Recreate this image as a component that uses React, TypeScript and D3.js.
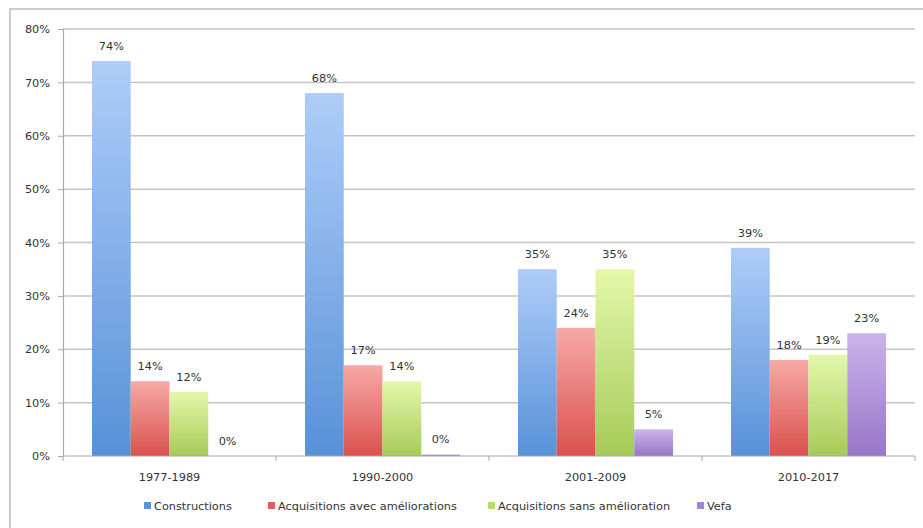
import * as d3 from "d3";
import { useEffect, useRef } from "react";

const periods = ["1977-1989", "1990-2000", "2001-2009", "2010-2017"];
const seriesNames = [
  "Constructions",
  "Acquisitions avec améliorations",
  "Acquisitions sans amélioration",
  "Vefa",
];
const constructions = [74, 68, 35, 39];
const avecAmeliorations = [14, 17, 24, 18];
const sansAmelioration = [12, 14, 35, 19];
const vefa = [0, 0.3, 5, 23];
const yTicks = [0, 10, 20, 30, 40, 50, 60, 70, 80];

const gradients = [
  ["#aecdf8", "#5891d8"],
  ["#f7a9a7", "#d9514d"],
  ["#e4f7ab", "#a6cb58"],
  ["#cbb4ec", "#9876c6"],
];
const legendFill = ["#5b93d8", "#e0605c", "#b4da72", "#a486d0"];

export default function App() {
  const ref = useRef<SVGSVGElement>(null);

  useEffect(() => {
    const svg = d3.select(ref.current);
    svg.selectAll("*").remove();
    const series = [constructions, avecAmeliorations, sansAmelioration, vefa];
    const font = "DejaVu Sans, sans-serif";
    const fs = 11.3;

    const left = 63;
    const right = 915;
    const x0 = d3.scaleBand().domain(periods).range([left, right]);
    const inset = x0.bandwidth() * 0.136;
    const x1 = d3
      .scaleBand()
      .domain(seriesNames)
      .range([inset, x0.bandwidth() - inset]);
    const y = d3.scaleLinear().domain([0, 80]).range([456, 29]);

    const defs = svg.append("defs");
    gradients.forEach((g, i) => {
      const lg = defs
        .append("linearGradient")
        .attr("id", `grad${i}`)
        .attr("x1", 0)
        .attr("y1", 0)
        .attr("x2", 0)
        .attr("y2", 1);
      lg.append("stop").attr("offset", "0%").attr("stop-color", g[0]);
      lg.append("stop").attr("offset", "100%").attr("stop-color", g[1]);
    });

    // outer frame
    svg
      .append("rect")
      .attr("x", 10)
      .attr("y", 9)
      .attr("width", 925)
      .attr("height", 540)
      .attr("fill", "white")
      .attr("stroke", "#cccccc")
      .attr("stroke-width", 2);

    // gridlines
    svg
      .append("g")
      .selectAll("line")
      .data(yTicks.filter((t) => t > 0))
      .join("line")
      .attr("x1", left)
      .attr("x2", right)
      .attr("y1", (d) => y(d))
      .attr("y2", (d) => y(d))
      .attr("stroke", "#c4c4c4")
      .attr("stroke-width", 1.5);

    // y axis
    const yAxis = svg
      .append("g")
      .attr("transform", `translate(${left},0)`)
      .call(
        d3
          .axisLeft(y)
          .tickValues(yTicks)
          .tickSize(5)
          .tickPadding(8)
          .tickFormat((d) => `${d}%`)
      );
    yAxis.select(".domain").attr("stroke", "#a8a8a8").attr("stroke-width", 1.2);
    yAxis.selectAll(".tick line").attr("stroke", "#a8a8a8");
    yAxis
      .selectAll("text")
      .attr("fill", "#333")
      .attr("font-size", fs)
      .attr("font-family", font);

    // bars
    const groups = svg
      .append("g")
      .selectAll("g")
      .data(periods)
      .join("g")
      .attr("transform", (d) => `translate(${x0(d)},0)`);

    groups.each(function (p, gi) {
      const g = d3.select(this);
      seriesNames.forEach((s, si) => {
        const v = series[si][gi];
        g.append("rect")
          .attr("x", x1(s)!)
          .attr("y", y(v))
          .attr("width", x1.bandwidth())
          .attr("height", y(0) - y(v))
          .attr("fill", `url(#grad${si})`);
        g.append("text")
          .attr("x", x1(s)! + x1.bandwidth() / 2)
          .attr("y", y(v) - 11)
          .attr("text-anchor", "middle")
          .attr("font-size", fs)
          .attr("font-family", font)
          .attr("fill", "#333")
          .text(`${Math.round(v)}%`);
      });
    });

    // x axis
    svg
      .append("line")
      .attr("x1", left)
      .attr("x2", right)
      .attr("y1", y(0))
      .attr("y2", y(0))
      .attr("stroke", "#a8a8a8")
      .attr("stroke-width", 1.2);
    svg
      .append("g")
      .selectAll("line")
      .data(d3.range(periods.length + 1))
      .join("line")
      .attr("x1", (i) => left + i * x0.bandwidth())
      .attr("x2", (i) => left + i * x0.bandwidth())
      .attr("y1", y(0))
      .attr("y2", y(0) + 5)
      .attr("stroke", "#a8a8a8");
    svg
      .append("g")
      .selectAll("text")
      .data(periods)
      .join("text")
      .attr("x", (d) => x0(d)! + x0.bandwidth() / 2)
      .attr("y", 481)
      .attr("text-anchor", "middle")
      .attr("font-size", fs)
      .attr("font-family", font)
      .attr("fill", "#333")
      .text((d) => d);

    // legend
    const legendX = [144, 268, 488, 697];
    const legend = svg
      .append("g")
      .selectAll("g")
      .data(seriesNames)
      .join("g")
      .attr("transform", (d, i) => `translate(${legendX[i]},510)`);
    legend
      .append("rect")
      .attr("x", 0)
      .attr("y", -8)
      .attr("width", 7)
      .attr("height", 7)
      .attr("fill", (d, i) => legendFill[i]);
    legend
      .append("text")
      .attr("x", 10)
      .attr("y", 0)
      .attr("font-size", fs)
      .attr("font-family", font)
      .attr("fill", "#333")
      .text((d) => d);
  }, []);

  return (
    <svg
      ref={ref}
      width={923}
      height={528}
      style={{ position: "absolute", left: 0, top: 0, background: "white" }}
    ></svg>
  );
}
